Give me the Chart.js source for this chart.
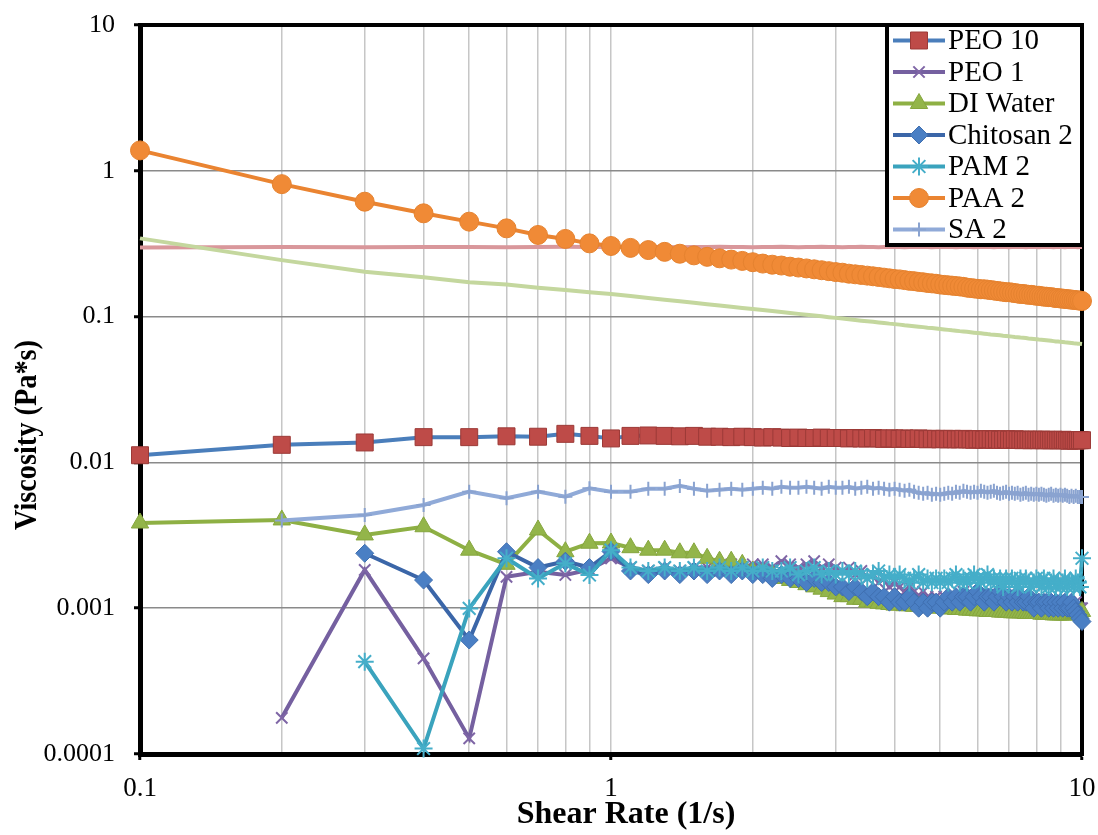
<!DOCTYPE html>
<html>
<head>
<meta charset="utf-8">
<script src="https://cdn.jsdelivr.net/npm/chart.js@4.4.1/dist/chart.umd.min.js"></script>
<style>
  html, body { margin: 0; padding: 0; background: #fff; }
  #wrap { width: 1098px; height: 835px; position: relative; }
</style>
</head>
<body>
<div id="wrap"><canvas id="chart"></canvas></div>
<script>
// Shear rate (1/s) - one row per block of ten points
const shearRate = [
  0.1, 0.2, 0.3, 0.4, 0.5, 0.6, 0.7, 0.8, 0.9, 1.0,
  1.1, 1.2, 1.3, 1.4, 1.5, 1.6, 1.7, 1.8, 1.9, 2.0,
  2.1, 2.2, 2.3, 2.4, 2.5, 2.6, 2.7, 2.8, 2.9, 3.0,
  3.1, 3.2, 3.3, 3.4, 3.5, 3.6, 3.7, 3.8, 3.9, 4.0,
  4.1, 4.2, 4.3, 4.4, 4.5, 4.6, 4.7, 4.8, 4.9, 5.0,
  5.1, 5.2, 5.3, 5.4, 5.5, 5.6, 5.7, 5.8, 5.9, 6.0,
  6.1, 6.2, 6.3, 6.4, 6.5, 6.6, 6.7, 6.8, 6.9, 7.0,
  7.1, 7.2, 7.3, 7.4, 7.5, 7.6, 7.7, 7.8, 7.9, 8.0,
  8.1, 8.2, 8.3, 8.4, 8.5, 8.6, 8.7, 8.8, 8.9, 9.0,
  9.1, 9.2, 9.3, 9.4, 9.5, 9.6, 9.7, 9.8, 9.9, 10.0
];

// Viscosity (Pa*s)
const peo10 = [
  0.0112, 0.0132, 0.0137, 0.0149, 0.0149, 0.0151, 0.0150, 0.0157, 0.0152, 0.0146,
  0.0152, 0.0153, 0.0152, 0.0151, 0.0152, 0.0150, 0.0150, 0.0149, 0.0150, 0.0149,
  0.0148, 0.0149, 0.0148, 0.0147, 0.0148, 0.0147, 0.0147, 0.0148, 0.0147, 0.0147,
  0.0147, 0.0146, 0.0147, 0.0146, 0.0146, 0.0147, 0.0146, 0.0145, 0.0146, 0.0146,
  0.0145, 0.0146, 0.0145, 0.0145, 0.0146, 0.0145, 0.0144, 0.0145, 0.0145, 0.0144,
  0.0145, 0.0144, 0.0145, 0.0144, 0.0144, 0.0145, 0.0144, 0.0144, 0.0143, 0.0144,
  0.0144, 0.0143, 0.0144, 0.0144, 0.0143, 0.0144, 0.0143, 0.0143, 0.0144, 0.0143,
  0.0143, 0.0144, 0.0143, 0.0143, 0.0142, 0.0143, 0.0143, 0.0142, 0.0143, 0.0143,
  0.0142, 0.0143, 0.0142, 0.0143, 0.0142, 0.0142, 0.0143, 0.0142, 0.0142, 0.0142,
  0.0143, 0.0142, 0.0142, 0.0141, 0.0142, 0.0142, 0.0141, 0.0142, 0.0142, 0.0142
];
const peo1 = [
  null, 0.000177, 0.00183, 0.000453, 0.000128, 0.00164, 0.00178, 0.00169, 0.00184, 0.0022,
  0.0019, 0.0018, 0.0019, 0.0018, 0.0019, 0.0019, 0.0018, 0.0020, 0.0019, 0.0020,
  0.0020, 0.0019, 0.0021, 0.0020, 0.0019, 0.0020, 0.0021, 0.0019, 0.0020, 0.0019,
  0.0018, 0.0019, 0.0017, 0.0018, 0.0016, 0.0017, 0.0015, 0.0016, 0.0014, 0.0015,
  0.0014, 0.0013, 0.0014, 0.0013, 0.0012, 0.0013, 0.0012, 0.0011, 0.0012, 0.0011,
  0.0012, 0.0011, 0.0012, 0.0011, 0.0012, 0.0013, 0.0012, 0.0011, 0.0012, 0.0011,
  0.0012, 0.0011, 0.0012, 0.0012, 0.0011, 0.0012, 0.0011, 0.0012, 0.0011, 0.0011,
  0.0011, 0.0012, 0.0011, 0.0010, 0.0011, 0.0011, 0.0010, 0.0011, 0.0011, 0.0010,
  0.0011, 0.0010, 0.0011, 0.0010, 0.0011, 0.0010, 0.0010, 0.0011, 0.0010, 0.0010,
  0.0011, 0.0010, 0.0010, 0.0011, 0.0010, 0.0010, 0.0011, 0.0010, 0.0010, 0.0010
];
const diWater = [
  0.00384, 0.00403, 0.00318, 0.00362, 0.0025, 0.0020, 0.00344, 0.00244, 0.00279, 0.0028,
  0.0026, 0.0025, 0.0025, 0.0024, 0.0024, 0.0022, 0.0021, 0.0021, 0.0020, 0.0018,
  0.00175, 0.0017, 0.0016, 0.00155, 0.0015, 0.00145, 0.0014, 0.00135, 0.0013, 0.00125,
  0.0012, 0.0012, 0.00115, 0.00115, 0.0011, 0.0011, 0.00108, 0.00107, 0.00106, 0.00105,
  0.00105, 0.00104, 0.00104, 0.00103, 0.00103, 0.00102, 0.00102, 0.00101, 0.00101, 0.0010,
  0.0010, 0.00099, 0.00099, 0.00098, 0.00098, 0.00098, 0.00097, 0.00097, 0.00097, 0.00096,
  0.00096, 0.00096, 0.00095, 0.00095, 0.00095, 0.00095, 0.00094, 0.00094, 0.00094, 0.00094,
  0.00093, 0.00093, 0.00093, 0.00093, 0.00093, 0.00092, 0.00092, 0.00092, 0.00092, 0.00092,
  0.00092, 0.00091, 0.00091, 0.00091, 0.00091, 0.00091, 0.0009, 0.0009, 0.0009, 0.0009,
  0.0009, 0.0009, 0.0009, 0.0009, 0.00091, 0.00092, 0.00093, 0.00093, 0.00094, 0.00095
];
const chitosan2 = [
  null, null, 0.00238, 0.00156, 0.000605, 0.00244, 0.0019, 0.0021, 0.0019, 0.00245,
  0.0018, 0.0017, 0.0018, 0.0017, 0.0018, 0.0017, 0.0018, 0.0017, 0.0018, 0.0017,
  0.0017, 0.0016, 0.0017, 0.0016, 0.0016, 0.0015, 0.0016, 0.0015, 0.0015, 0.0014,
  0.0014, 0.0013, 0.0014, 0.0013, 0.0012, 0.0013, 0.0012, 0.0012, 0.0011, 0.0012,
  0.0011, 0.0011, 0.0012, 0.0011, 0.0010, 0.0011, 0.0010, 0.0011, 0.0011, 0.0010,
  0.0011, 0.0012, 0.0011, 0.0012, 0.0011, 0.0012, 0.0012, 0.0011, 0.0012, 0.0013,
  0.0012, 0.0011, 0.0012, 0.0012, 0.0011, 0.0012, 0.0013, 0.0012, 0.0011, 0.0012,
  0.0011, 0.0012, 0.0011, 0.0012, 0.0011, 0.0011, 0.0012, 0.0011, 0.0010, 0.0011,
  0.0011, 0.0010, 0.0011, 0.0011, 0.0010, 0.0011, 0.0010, 0.0011, 0.0010, 0.0011,
  0.0010, 0.0011, 0.0010, 0.0010, 0.0011, 0.0010, 0.00095, 0.0009, 0.00085, 0.00081
];
const pam2 = [
  null, null, 0.00043, 0.000109, 0.000997, 0.0022, 0.0016, 0.00203, 0.00169, 0.0025,
  0.0019, 0.0018, 0.0019, 0.0018, 0.0019, 0.0018, 0.0019, 0.0018, 0.0019, 0.0018,
  0.0019, 0.0018, 0.0018, 0.0019, 0.0017, 0.0018, 0.0019, 0.0017, 0.0018, 0.0017,
  0.0018, 0.0017, 0.0018, 0.0017, 0.0016, 0.0017, 0.0018, 0.0016, 0.0017, 0.0016,
  0.0017, 0.0016, 0.0015, 0.0016, 0.0017, 0.0015, 0.0016, 0.0015, 0.0016, 0.0015,
  0.0016, 0.0015, 0.0016, 0.0017, 0.0015, 0.0016, 0.0015, 0.0016, 0.0017, 0.0016,
  0.0015, 0.0016, 0.0017, 0.0015, 0.0016, 0.0015, 0.0016, 0.0014, 0.0016, 0.0015,
  0.0016, 0.0015, 0.0014, 0.0016, 0.0015, 0.0016, 0.0015, 0.0014, 0.0015, 0.0016,
  0.0015, 0.0014, 0.0016, 0.0015, 0.0014, 0.0015, 0.0016, 0.0014, 0.0015, 0.0014,
  0.0015, 0.0016, 0.0014, 0.0015, 0.0015, 0.0014, 0.0016, 0.0015, 0.0014, 0.0022
];
const paa2 = [
  1.38, 0.81, 0.614, 0.511, 0.448, 0.403, 0.363, 0.341, 0.318, 0.305,
  0.296, 0.286, 0.278, 0.270, 0.263, 0.257, 0.251, 0.246, 0.241, 0.236,
  0.231, 0.227, 0.224, 0.220, 0.217, 0.214, 0.211, 0.208, 0.205, 0.202,
  0.200, 0.197, 0.195, 0.193, 0.191, 0.189, 0.187, 0.185, 0.183, 0.181,
  0.180, 0.178, 0.176, 0.175, 0.173, 0.172, 0.170, 0.169, 0.168, 0.166,
  0.165, 0.164, 0.163, 0.162, 0.161, 0.160, 0.158, 0.157, 0.156, 0.155,
  0.154, 0.154, 0.153, 0.152, 0.151, 0.150, 0.149, 0.148, 0.147, 0.147,
  0.146, 0.145, 0.144, 0.143, 0.143, 0.142, 0.141, 0.141, 0.140, 0.139,
  0.139, 0.138, 0.137, 0.137, 0.136, 0.136, 0.135, 0.134, 0.134, 0.133,
  0.133, 0.132, 0.132, 0.131, 0.131, 0.130, 0.130, 0.129, 0.129, 0.128
];
const sa2 = [
  null, 0.0040, 0.00436, 0.0051, 0.0063, 0.00567, 0.0063, 0.00582, 0.00664, 0.0063,
  0.0063, 0.0066, 0.0066, 0.0069, 0.0066, 0.0064, 0.0065, 0.0066, 0.0065, 0.0066,
  0.0067, 0.0066, 0.0068, 0.0067, 0.0067, 0.0068, 0.0067, 0.0066, 0.0068, 0.0067,
  0.0067, 0.0068, 0.0066, 0.0067, 0.0068, 0.0066, 0.0067, 0.0066, 0.0065, 0.0066,
  0.0065, 0.0064, 0.0065, 0.0063, 0.0062, 0.0061, 0.0062, 0.0060, 0.0061, 0.0060,
  0.0061, 0.0062, 0.0061, 0.0063, 0.0062, 0.0064, 0.0063, 0.0062, 0.0063, 0.0062,
  0.0064, 0.0063, 0.0062, 0.0063, 0.0064, 0.0062, 0.0061, 0.0062, 0.0063, 0.0061,
  0.0062, 0.0061, 0.0062, 0.0060, 0.0061, 0.0062, 0.0060, 0.0061, 0.0060, 0.0061,
  0.0060, 0.0061, 0.0060, 0.0059, 0.0060, 0.0061, 0.0059, 0.0060, 0.0059, 0.0060,
  0.0059, 0.0060, 0.0059, 0.0058, 0.0059, 0.0058, 0.0059, 0.0058, 0.0058, 0.0058
];
// two series that have no legend entry
const unlabeledPink = [
  0.298, 0.300, 0.299, 0.300, 0.300, 0.299, 0.300, 0.301, 0.300, 0.300,
  0.300, 0.301, 0.300, 0.299, 0.300, 0.300, 0.301, 0.300, 0.300, 0.299,
  0.300, 0.300, 0.301, 0.300, 0.299, 0.300, 0.300, 0.301, 0.300, 0.300,
  0.299, 0.300, 0.300, 0.301, 0.300, 0.300, 0.299, 0.300, 0.301, 0.300,
  0.300, 0.299, 0.300, 0.300, 0.301, 0.300, 0.300, 0.299, 0.300, 0.300,
  0.301, 0.300, 0.300, 0.299, 0.300, 0.301, 0.300, 0.300, 0.299, 0.300,
  0.300, 0.301, 0.300, 0.300, 0.299, 0.300, 0.300, 0.301, 0.300, 0.299,
  0.300, 0.300, 0.301, 0.300, 0.300, 0.299, 0.300, 0.301, 0.300, 0.300,
  0.299, 0.300, 0.300, 0.301, 0.300, 0.300, 0.299, 0.300, 0.300, 0.301,
  0.300, 0.299, 0.300, 0.300, 0.301, 0.300, 0.300, 0.299, 0.300, 0.300
];
const unlabeledGreen = [
  0.344, 0.244, 0.203, 0.186, 0.172, 0.166, 0.158, 0.152, 0.147, 0.143,
  0.1384, 0.1343, 0.1307, 0.1274, 0.1244, 0.1217, 0.1191, 0.1168, 0.1147, 0.1127,
  0.1108, 0.1091, 0.1074, 0.1058, 0.1044, 0.1030, 0.1017, 0.1004, 0.0991, 0.0980,
  0.0970, 0.0958, 0.0948, 0.0938, 0.0930, 0.0921, 0.0912, 0.0904, 0.0895, 0.0888,
  0.0881, 0.0872, 0.0865, 0.0858, 0.0852, 0.0847, 0.0839, 0.0834, 0.0828, 0.0822,
  0.0817, 0.0811, 0.0805, 0.0801, 0.0795, 0.0791, 0.0787, 0.0781, 0.0776, 0.0772,
  0.0768, 0.0764, 0.0759, 0.0755, 0.0752, 0.0748, 0.0744, 0.0739, 0.0736, 0.0732,
  0.0729, 0.0725, 0.0722, 0.0718, 0.0715, 0.0712, 0.0708, 0.0705, 0.0702, 0.0699,
  0.0696, 0.0694, 0.0691, 0.0688, 0.0685, 0.0682, 0.0679, 0.0676, 0.0674, 0.0671,
  0.0669, 0.0666, 0.0664, 0.0662, 0.0659, 0.0656, 0.0655, 0.0652, 0.0651, 0.0648
];

// axes
const yTickValues = [0.0001, 0.001, 0.01, 0.1, 1, 10];
const yTickLabels = ["0.0001", "0.001", "0.01", "0.1", "1", "10"];
const xGridValues = [0.1, 0.2, 0.3, 0.4, 0.5, 0.6, 0.7, 0.8, 0.9, 1, 2, 3, 4, 5, 6, 7, 8, 9, 10];
const xTickValues = [0.1, 1, 10];
const xTickLabels = ["0.1", "1", "10"];

const serif = '"Liberation Serif", "Times New Roman", serif';

function pts(values) {
  return shearRate.map((x, i) => ({ x: x, y: values[i] }));
}

function series(label, values, line, fill, stroke, style, radius, order, inLegend) {
  return {
    label: label,
    data: pts(values),
    borderColor: line,
    backgroundColor: fill,
    borderWidth: 4,
    pointStyle: style,
    pointRadius: radius,
    pointHoverRadius: radius,
    pointBackgroundColor: fill,
    pointBorderColor: stroke,
    pointBorderWidth: style === "crossRot" || style === "cross" || style === "star" ? 2 : 1,
    tension: 0,
    clip: false,
    order: order,
    inLegend: inLegend
  };
}

const datasets = [
  series("PEO 10", peo10, "#4a7ebb", "#be4b48", "#9c3a37", "rect", 12, 7, true),
  series("PEO 1", peo1, "#7560a0", "#7f66a6", "#7f66a6", "crossRot", 8, 6, true),
  series("DI Water", diWater, "#8eb044", "#93b54a", "#86a63e", "triangle", 10, 5, true),
  series("Chitosan 2", chitosan2, "#3b66a8", "#4a7fc4", "#3f6fb0", "rectRot", 9, 4, true),
  series("PAM 2", pam2, "#3aa3bd", "#45aec9", "#45aec9", "star", 9, 3, true),
  series("PAA 2", paa2, "#ea8431", "#f08a36", "#e5822f", "circle", 9.5, 2, true),
  series("SA 2", sa2, "#90aad8", "#90aad8", "#8aa3d0", "cross", 7, 1, true),
  series("", unlabeledPink, "#d9979b", "#d9979b", "#d9979b", "circle", 0, 9, false),
  series("", unlabeledGreen, "#c4d79e", "#c4d79e", "#c4d79e", "circle", 0, 8, false)
];

function isDecade(v) {
  const l = Math.log10(v);
  return Math.abs(l - Math.round(l)) < 1e-9;
}

// frame (top and right edges) plus axis titles
const framePlugin = {
  id: "frame",
  beforeDatasetsDraw(chart) {
    const { ctx, chartArea: a } = chart;
    ctx.save();
    ctx.strokeStyle = "#000";
    ctx.lineWidth = 4;
    ctx.beginPath();
    ctx.moveTo(a.left - 2, a.top);
    ctx.lineTo(a.right, a.top);
    ctx.lineTo(a.right, a.bottom + 2);
    ctx.stroke();
    ctx.restore();
  },
  afterDraw(chart) {
    const { ctx } = chart;
    ctx.save();
    ctx.fillStyle = "#000";
    ctx.font = "bold 32px " + serif;
    ctx.textAlign = "center";
    ctx.textBaseline = "alphabetic";
    ctx.fillText("Shear Rate (1/s)", 626, 823);
    ctx.translate(36, 435);
    ctx.rotate(-Math.PI / 2);
    ctx.fillText("Viscosity (Pa*s)", 0, 0, 190);
    ctx.restore();
  }
};

// legend box in the upper right corner
const legendPlugin = {
  id: "boxLegend",
  afterDraw(chart) {
    const { ctx, chartArea: a } = chart;
    const left = 887, top = a.top, right = a.right, bottom = 245;
    ctx.save();
    ctx.fillStyle = "#fff";
    ctx.fillRect(left, top, right - left, bottom - top);
    ctx.strokeStyle = "#000";
    ctx.lineWidth = 4;
    ctx.strokeRect(left, top, right - left, bottom - top);
    const items = chart.data.datasets.filter(d => d.inLegend);
    items.forEach((d, i) => {
      const y = 40.5 + i * 31.5;
      ctx.strokeStyle = d.borderColor;
      ctx.lineWidth = 4;
      ctx.beginPath();
      ctx.moveTo(893, y);
      ctx.lineTo(945, y);
      ctx.stroke();
      ctx.fillStyle = d.pointBackgroundColor;
      ctx.strokeStyle = d.pointBorderColor;
      ctx.lineWidth = d.pointBorderWidth;
      Chart.helpers.drawPoint(ctx, { pointStyle: d.pointStyle, radius: d.pointRadius, rotation: 0, borderWidth: d.pointBorderWidth }, 919, y);
      ctx.fillStyle = "#000";
      ctx.font = "29px " + serif;
      ctx.textAlign = "left";
      ctx.textBaseline = "middle";
      ctx.fillText(d.label, 948, y + 1);
    });
    ctx.restore();
  }
};

new Chart(document.getElementById("chart"), {
  type: "line",
  data: { datasets: datasets },
  plugins: [framePlugin, legendPlugin],
  options: {
    responsive: true,
    maintainAspectRatio: false,
    animation: false,
    devicePixelRatio: 1,
    layout: { padding: { left: 0, top: 25, right: 16, bottom: 0 } },
    plugins: {
      legend: { display: false },
      tooltip: { enabled: false }
    },
    scales: {
      x: {
        type: "logarithmic",
        min: 0.1,
        max: 10,
        afterBuildTicks: (scale) => {
          scale.ticks = xGridValues.map(v => ({ value: v, major: isDecade(v) }));
        },
        afterFit: (scale) => {
          scale.height = 81;
          scale.paddingLeft = 0;
          scale.paddingRight = 0;
        },
        border: { display: true, color: "#000", width: 5 },
        grid: {
          color: "#c6c6c6",
          lineWidth: 1.5,
          drawTicks: true,
          tickLength: 6,
          tickWidth: 3,
          tickColor: (c) => (c.tick && isDecade(c.tick.value) ? "#000" : "rgba(0,0,0,0)")
        },
        ticks: {
          autoSkip: false,
          maxRotation: 0,
          padding: 13,
          color: "#000",
          font: { family: serif, size: 27 },
          callback: (v) => {
            const i = xTickValues.findIndex(t => Math.abs(t - v) < 1e-9);
            return i >= 0 ? xTickLabels[i] : "";
          }
        }
      },
      y: {
        type: "logarithmic",
        min: 0.0001,
        max: 10,
        afterBuildTicks: (scale) => {
          scale.ticks = yTickValues.map(v => ({ value: v, major: true }));
        },
        afterFit: (scale) => {
          scale.width = 140;
          scale.paddingTop = 0;
          scale.paddingBottom = 0;
        },
        border: { display: true, color: "#000", width: 5 },
        grid: {
          color: "#8a8a8a",
          lineWidth: 1.5,
          drawTicks: true,
          tickLength: 6,
          tickWidth: 3,
          tickColor: "#000"
        },
        ticks: {
          padding: 19,
          color: "#000",
          font: { family: serif, size: 26 },
          callback: (v) => {
            const i = yTickValues.findIndex(t => Math.abs(t - v) / t < 1e-6);
            return i >= 0 ? yTickLabels[i] : "";
          }
        }
      }
    }
  }
});
</script>
</body>
</html>
